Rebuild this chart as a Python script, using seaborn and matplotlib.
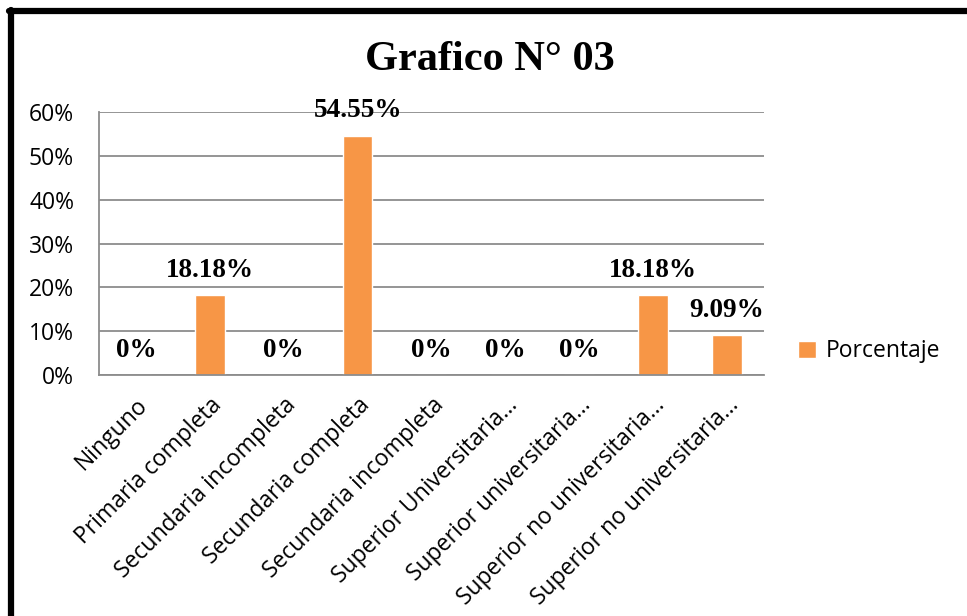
import numpy as np
import pandas as pd
import matplotlib
matplotlib.use("Agg")
import matplotlib.pyplot as plt
import seaborn as sns
from matplotlib.lines import Line2D

# datos del grafico
categorias = ["Ninguno", "Primaria completa", "Secundaria incompleta",
              "Secundaria completa", "Secundaria incompleta",
              "Superior Universitaria\u2026", "Superior universitaria\u2026",
              "Superior no universitaria\u2026", "Superior no universitaria\u2026"]
porcentajes = [0, 18.18, 0, 54.55, 0, 0, 0, 18.18, 9.09]
etiquetas = ["0%", "18.18%", "0%", "54.55%", "0%", "0%", "0%", "18.18%", "9.09%"]
yticks = [0, 10, 20, 30, 40, 50, 60]
titulo = "Grafico N\u00b0 03"
serie = "Porcentaje"

df = pd.DataFrame({"pos": range(len(categorias)), "valor": porcentajes})

sns.set_style("white")
plt.rcParams['font.family'] = ['Open Sans', 'DejaVu Sans']
plt.rcParams['text.color'] = 'black'
plt.rcParams['xtick.labelcolor'] = 'black'
plt.rcParams['ytick.labelcolor'] = 'black'

fig = plt.figure(figsize=(9.67, 6.16), dpi=100)
ax = fig.add_axes([0.1024, 0.3912, 0.6876, 0.4268])

sns.barplot(data=df, x="pos", y="valor", color="#F79646", width=0.4,
            saturation=1, label=serie, ax=ax)

ax.set_ylim(0, 60)
ax.set_xlim(-0.5, len(categorias) - 0.5)
ax.set_yticks(yticks)
ax.set_yticklabels([f"{v}%" for v in yticks], fontsize=16.5, color="black")
ax.yaxis.grid(True, color="#8c8c8c", linewidth=1.3)
ax.set_axisbelow(True)

# etiquetas en el centro, marcas entre categorias
ax.set_xticks(range(len(categorias)))
ax.set_xticklabels(categorias, rotation=45, ha="right", rotation_mode="anchor",
                   fontsize=16.5, color="black")
ax.tick_params(axis="x", which="major", length=0, pad=13)
ax.set_xticks(np.arange(-0.5, len(categorias), 1), minor=True)
ax.tick_params(axis="x", which="minor", length=6, width=1.3, color="#8c8c8c",
               direction="out")
ax.tick_params(axis="y", length=6, width=1.3, color="#8c8c8c", direction="out",
               pad=12)
ax.set_xlabel("")
ax.set_ylabel("")

for s in ["top", "right"]:
    ax.spines[s].set_visible(False)
for s in ["left", "bottom"]:
    ax.spines[s].set_color("#8c8c8c")
    ax.spines[s].set_linewidth(1.3)

for i, (v, t) in enumerate(zip(porcentajes, etiquetas)):
    ax.annotate(t, (i, v), xytext=(0, 18), textcoords="offset points",
                ha="center", va="center", fontsize=19.5, fontweight="bold",
                family="Liberation Serif", color="black", annotation_clip=False)

fig.text(0.507, 0.902, titulo, ha="center", va="center", fontsize=30.5,
         fontweight="bold", family="Liberation Serif", color="black")

leg = ax.legend(loc="center left", bbox_to_anchor=(1.02, 0.09), frameon=False,
                fontsize=16.5, handlelength=0.8, handleheight=0.8,
                handletextpad=0.4)
for txt in leg.get_texts():
    txt.set_color("black")

# marco negro (izquierda y arriba)
fig.add_artist(Line2D([0.0114, 0.0114], [0, 0.984], color="black", linewidth=4.5))
fig.add_artist(Line2D([0.0093, 1.0], [0.982, 0.982], color="black", linewidth=4.5))

plt.savefig("out.png", dpi=100)
